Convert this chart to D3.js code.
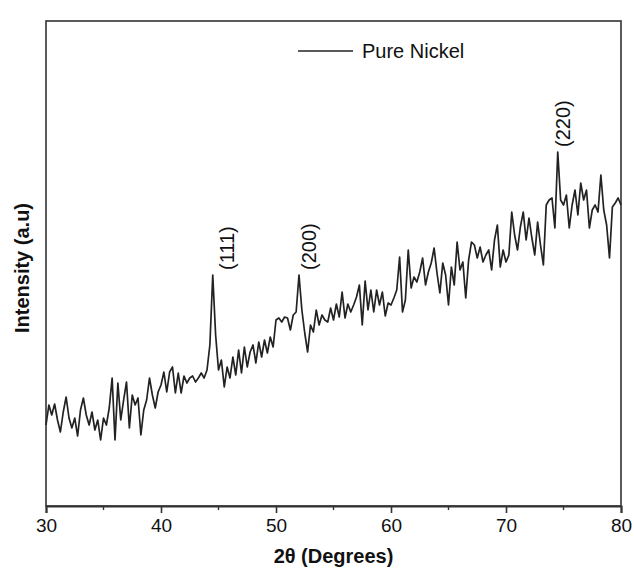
<!DOCTYPE html>
<html>
<head>
<meta charset="utf-8">
<script src="https://cdn.jsdelivr.net/npm/d3@7"></script>
<style>
  body { margin: 0; background: #fff; }
  text { font-family: "Liberation Sans", Arial, sans-serif; fill: #111; }
</style>
</head>
<body>
<svg id="chart" width="634" height="577"></svg>
<script>
// 2-theta grid, 0.25 deg steps from 30 to 80
const twoTheta = d3.range(201).map(i => 30 + i * 0.25);

// intensity (a.u.), one 10-degree block per array
const int30 = [81,101,91,102,86,74,94,109,88,78,88,70,96,108,91,81,94,76,86,66,
  88,81,98,128,66,123,86,106,124,78,111,101,108,71,96,106,128,111,98,114];
const int40 = [121,134,114,134,139,113,133,113,130,123,128,130,124,128,133,128,136,161,231,171,
  136,146,119,139,128,149,131,156,133,159,139,154,161,143,164,149,166,153,169,159];
const int50 = [186,188,184,189,188,176,191,194,231,196,173,154,181,174,196,181,191,186,184,198,
  186,202,189,214,188,202,194,201,209,221,181,225,196,216,194,216,201,214,190,203];
const int60 = [201,208,216,249,194,206,256,218,229,224,234,248,221,234,243,258,233,213,243,231,
  201,239,221,264,236,244,208,246,264,261,248,259,244,251,256,236,266,281,239,256];
const int70 = [244,251,294,271,256,279,294,266,288,268,251,284,261,241,301,306,308,278,354,306,
  301,311,278,301,316,291,323,306,316,278,296,301,294,331,296,281,248,299,303,308,301];
const intensity = [].concat(int30, int40, int50, int60, int70);

// peak labels
const peakPos = [44.5, 52.0, 74.5];
const peakHkl = ["(111)", "(200)", "(220)"];

const xTicks = [30, 40, 50, 60, 70, 80];
const seriesName = "Pure Nickel";

const data = twoTheta.map((t, i) => ({ t: t, v: intensity[i] }));

const margin = { left: 46, right: 13, top: 21, bottom: 71 };
const W = 634, H = 577;
const svg = d3.select("#chart");

const x = d3.scaleLinear().domain([30, 80]).range([margin.left, W - margin.right]);
const y = d3.scaleLinear().domain([0, 485]).range([H - margin.bottom, margin.top]);

// frame
svg.append("rect")
  .attr("x", margin.left).attr("y", margin.top)
  .attr("width", W - margin.left - margin.right)
  .attr("height", H - margin.top - margin.bottom)
  .attr("fill", "none").attr("stroke", "#333").attr("stroke-width", 1.6);

// x axis, major + minor ticks pointing outward
const xAxis = svg.append("g").attr("transform", `translate(0,${H - margin.bottom})`);
xAxis.call(d3.axisBottom(x).tickValues(xTicks).tickSize(7).tickPadding(6).tickFormat(d3.format("d")));
xAxis.append("g").selectAll("line")
  .data(d3.range(35, 80, 10))
  .join("line")
  .attr("x1", d => x(d)).attr("x2", d => x(d))
  .attr("y1", 0).attr("y2", 4)
  .attr("stroke", "#333").attr("stroke-width", 1.4);
xAxis.select(".domain").attr("stroke", "#333").attr("stroke-width", 2);
xAxis.selectAll(".tick line").attr("stroke", "#333").attr("stroke-width", 1.6);
xAxis.selectAll(".tick text")
  .style("font-size", "19px").style("font-family", "Liberation Sans, Arial, sans-serif")
  .attr("fill", "#333");

// axis titles
svg.append("text")
  .attr("x", (x(30) + x(80)) / 2).attr("y", 563)
  .attr("text-anchor", "middle")
  .style("font-size", "20px").style("font-weight", "bold")
  .text("2\u03b8 (Degrees)");

svg.append("text")
  .attr("transform", "translate(29,268) rotate(-90)")
  .attr("text-anchor", "middle")
  .style("font-size", "20px").style("font-weight", "bold")
  .text("Intensity (a.u)");

// pattern
const line = d3.line().x(d => x(d.t)).y(d => y(d.v));
svg.append("path")
  .datum(data)
  .attr("fill", "none")
  .attr("stroke", "#222")
  .attr("stroke-width", 1.7)
  .attr("stroke-linejoin", "round")
  .attr("d", line);

// peak indices
const peakShift = [21, 17, 12];
peakPos.forEach((p, i) => {
  const idx = twoTheta.indexOf(p);
  const px = x(p) + peakShift[i];
  const py = y(intensity[idx]) - 5;
  svg.append("text")
    .attr("transform", `translate(${px},${py}) rotate(-90)`)
    .attr("text-anchor", "start")
    .style("font-size", "20px")
    .text(peakHkl[i]);
});

// legend
svg.append("line")
  .attr("x1", 298).attr("x2", 353).attr("y1", 51).attr("y2", 51)
  .attr("stroke", "#222").attr("stroke-width", 1.5);
svg.append("text")
  .attr("x", 362).attr("y", 58)
  .style("font-size", "20px")
  .text(seriesName);
</script>
</body>
</html>
